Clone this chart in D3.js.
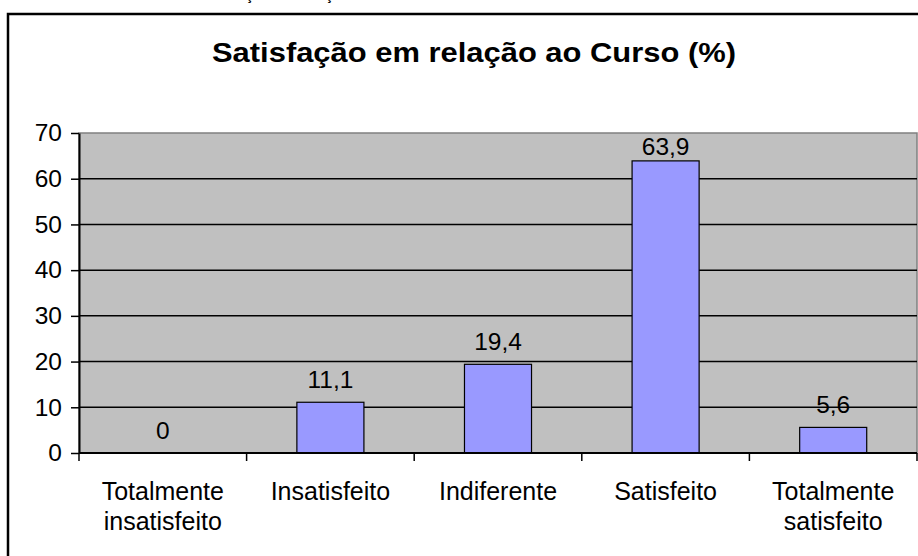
<!DOCTYPE html>
<html lang="pt">
<head>
<meta charset="UTF-8">
<title>Satisfação em relação ao Curso</title>
<script src="https://d3js.org/d3.v7.min.js"></script>
<style>
  body { margin: 0; background: #fff; }
  svg text { font-family: "Liberation Sans", Arial, sans-serif; fill: #000; }
</style>
</head>
<body>
<div id="chart"></div>
<script>
// data
var categories = [["Totalmente", "insatisfeito"], ["Insatisfeito"], ["Indiferente"], ["Satisfeito"], ["Totalmente", "satisfeito"]];
var values = [0, 11.1, 19.4, 63.9, 5.6];
var yTicks = [0, 10, 20, 30, 40, 50, 60, 70];
var title = "Satisfação em relação ao Curso (%)";

var W = 918, H = 556;
var plot = {left: 79, right: 917, top: 133, bottom: 453};

var svg = d3.select("#chart").append("svg")
  .attr("width", W).attr("height", H);

// caption of the page, cut off above the picture (only the cedillas show)
svg.append("text")
  .attr("x", 198).attr("y", -0.5)
  .style("font-size", "14.5px").style("font-weight", "bold")
  .text("Satisfação em relação ao curso");

// outer chart border (runs past right and bottom edge)
svg.append("rect")
  .attr("x", 8).attr("y", 14)
  .attr("width", W + 10).attr("height", H + 10)
  .attr("fill", "#fff").attr("stroke", "#000").attr("stroke-width", 2.5);

var idx = d3.range(values.length);
var x = d3.scaleBand().domain(idx).range([plot.left, plot.right]).paddingInner(0).paddingOuter(0);
var y = d3.scaleLinear().domain([0, 70]).range([plot.bottom, plot.top]);

// plot area
svg.append("rect")
  .attr("x", plot.left).attr("y", plot.top)
  .attr("width", plot.right - plot.left).attr("height", plot.bottom - plot.top)
  .attr("fill", "#c0c0c0").attr("stroke", "#808080").attr("stroke-width", 1.5);

// gridlines
svg.append("g").selectAll("line")
  .data(yTicks.filter(function(d) { return d > 0 && d < 70; }))
  .enter().append("line")
  .attr("x1", plot.left).attr("x2", plot.right)
  .attr("y1", function(d) { return y(d); }).attr("y2", function(d) { return y(d); })
  .attr("stroke", "#000").attr("stroke-width", 1.5);

// bars
var barW = x.bandwidth() * 0.4;
svg.append("g").selectAll("rect")
  .data(values)
  .enter().append("rect")
  .attr("x", function(d, i) { return x(i) + (x.bandwidth() - barW) / 2; })
  .attr("y", function(d) { return y(d); })
  .attr("width", barW)
  .attr("height", function(d) { return y(0) - y(d); })
  .attr("fill", "#9999ff")
  .attr("stroke", "#000").attr("stroke-width", 1.2)
  .style("display", function(d) { return d > 0 ? null : "none"; });

// value labels
svg.append("g").selectAll("text")
  .data(values)
  .enter().append("text")
  .attr("x", function(d, i) { return x(i) + x.bandwidth() / 2; })
  .attr("y", function(d) { return Math.max(y(d) - 14, plot.top + 22); })
  .attr("text-anchor", "middle")
  .style("font-size", "24.5px")
  .text(function(d) { return String(d).replace(".", ","); });

// y axis
var yAxis = svg.append("g")
  .attr("transform", "translate(" + plot.left + ",0)")
  .call(d3.axisLeft(y).tickValues(yTicks).tickSize(8).tickPadding(9).tickSizeOuter(0));
yAxis.select(".domain").attr("stroke", "#000").attr("stroke-width", 2);
yAxis.selectAll(".tick line").attr("stroke", "#000").attr("stroke-width", 1.5);
yAxis.selectAll(".tick text").style("font-size", "24.5px").style("font-family", "Liberation Sans, Arial, sans-serif");

// x axis line and ticks at category boundaries
var xb = d3.range(values.length + 1).map(function(i) { return i < values.length ? x(i) : plot.right; });
var xAxis = svg.append("g");
xAxis.append("line")
  .attr("x1", plot.left).attr("x2", plot.right)
  .attr("y1", plot.bottom).attr("y2", plot.bottom)
  .attr("stroke", "#000").attr("stroke-width", 2);
xAxis.selectAll(".tk").data(xb).enter().append("line")
  .attr("class", "tk")
  .attr("x1", function(d) { return d; }).attr("x2", function(d) { return d; })
  .attr("y1", plot.bottom).attr("y2", plot.bottom + 8)
  .attr("stroke", "#000").attr("stroke-width", 1.5);

// category labels
var lab = svg.append("g").selectAll("text")
  .data(categories)
  .enter().append("text")
  .attr("text-anchor", "middle")
  .style("font-size", "25px")
  .attr("transform", function(d, i) { return "translate(" + (x(i) + x.bandwidth() / 2) + ",500)"; });
lab.selectAll("tspan")
  .data(function(d) { return d; })
  .enter().append("tspan")
  .attr("x", 0)
  .attr("y", function(d, j) { return j * 30; })
  .text(function(d) { return d; });

// title
svg.append("text")
  .attr("x", 474).attr("y", 62)
  .attr("text-anchor", "middle")
  .attr("textLength", 524).attr("lengthAdjust", "spacingAndGlyphs")
  .style("font-size", "27px").style("font-weight", "bold")
  .text(title);
</script>
</body>
</html>
